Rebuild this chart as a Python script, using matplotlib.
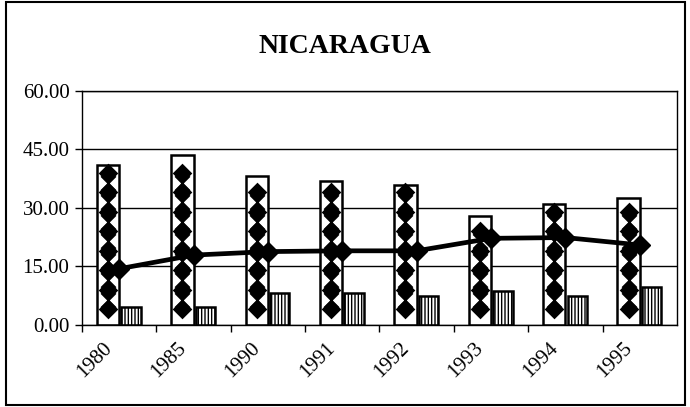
import numpy as np
import matplotlib
matplotlib.use("Agg")
import matplotlib.pyplot as plt
import matplotlib.transforms as mtransforms
from matplotlib.patches import Rectangle

plt.rcParams['font.family'] = ['Liberation Serif', 'DejaVu Serif']
plt.rcParams['hatch.linewidth'] = 1.0

# values
years = ['1980', '1985', '1990', '1991', '1992', '1993', '1994', '1995']
big_vals = [41.0, 43.6, 38.2, 36.9, 35.8, 27.8, 30.9, 32.5]
small_vals = [4.7, 4.6, 8.3, 8.3, 7.3, 8.7, 7.4, 9.7]
line_vals = [14.4, 17.9, 18.8, 19.0, 19.0, 22.2, 22.4, 20.5]
yticks = [0, 15, 30, 45, 60]

fig = plt.figure(figsize=(6.9, 4.07), dpi=100)
ax = fig.add_axes([0.1188, 0.2015, 0.8622, 0.5755])

x = np.arange(len(years))

ax.set_axisbelow(True)
ax.yaxis.grid(True, color='black', linewidth=1.0)

ax.bar(x - 0.30, big_vals, width=0.30, align='edge', facecolor='white',
       edgecolor='black', linewidth=1.8, zorder=2)
# diamond pattern inside the tall bars
for xi, v in zip(x, big_vals):
    ys = np.arange(4, v - 1, 5)
    ax.scatter(np.full(len(ys), xi - 0.15), ys, marker='D', s=100,
               color='black', zorder=3, linewidths=0)
    ax.scatter(np.full(len(ys) - 1, xi - 0.15), ys[:-1] + 2.5, marker='x',
               s=110, color='black', zorder=3, linewidths=1.3)

ax.bar(x + 0.03, small_vals, width=0.26, align='edge', facecolor='white',
       edgecolor='black', linewidth=1.8, hatch='|||||', zorder=2)

ax.plot(x, line_vals, color='black', linewidth=3.4, marker='D',
        markersize=10, zorder=4)

ax.set_xlim(-0.5, len(years) - 0.5)
ax.set_ylim(0, 60)
ax.set_yticks(yticks)
ax.set_yticklabels([f'{t:.2f}' for t in yticks], fontsize=15)
ax.set_xticks(x - 0.5, minor=False)
ax.set_xticklabels([])
ax.set_xticks(x, minor=True)
ax.set_xticklabels(years, minor=True, rotation=45, ha='right',
                   rotation_mode='anchor', fontsize=15)
ax.tick_params(axis='x', which='major', length=5, width=1, direction='out')
ax.tick_params(axis='x', which='minor', length=0, pad=10)
ax.tick_params(axis='y', length=5, width=1, direction='out', pad=4)

shift = mtransforms.ScaledTranslation(-0.17, 0, fig.dpi_scale_trans)
for lbl in ax.get_xticklabels(minor=True):
    lbl.set_transform(lbl.get_transform() + shift)

for s in ax.spines.values():
    s.set_linewidth(1.0)
    s.set_color('black')

fig.text(0.5, 0.885, 'NICARAGUA', ha='center', va='center',
         fontsize=20, fontweight='bold')

fig.patches.append(Rectangle((0.008, 0.004), 0.985, 0.99, transform=fig.transFigure,
                             fill=False, edgecolor='black', linewidth=1.5))

fig.savefig('out.png', dpi=100)
